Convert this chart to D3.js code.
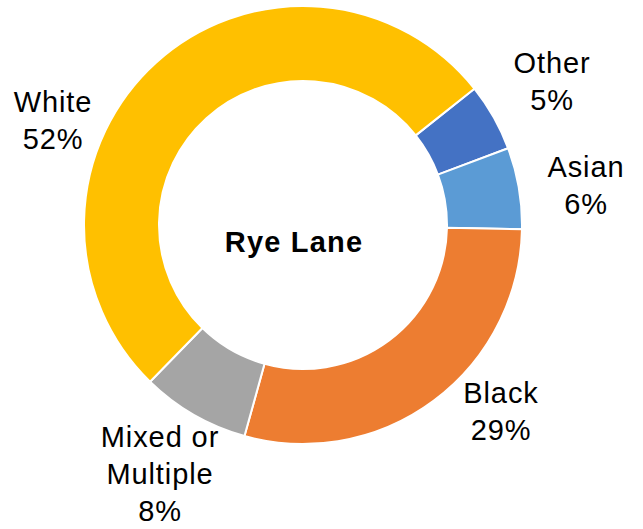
<!DOCTYPE html>
<html>
<head>
<meta charset="utf-8">
<script src="https://cdn.jsdelivr.net/npm/d3@7"></script>
<style>
  html, body { margin: 0; padding: 0; background: #fff; }
  svg { display: block; }
  text { font-family: "Liberation Sans", Arial, sans-serif; fill: #000; }
</style>
</head>
<body>
<div id="chart"></div>
<script>
// Ethnic make-up of Rye Lane (share of population, %)
const categories = ["Other", "Asian", "Black", "Mixed or Multiple", "White"];
const values = [5, 6, 29, 8, 52];
const labelLines = [["Other"], ["Asian"], ["Black"], ["Mixed or", "Multiple"], ["White"]];
const centerTitle = "Rye Lane";

const colors = ["#4472C4", "#5B9BD5", "#ED7D31", "#A5A5A5", "#FFC000"];

// Label anchors (first-line baseline, text centre) relative to ring centre
const labelAnchors = [
  [249, -152],
  [283, -48],
  [198, 178],
  [-143, 222],
  [-250, -113]
];

const width = 643, height = 529;
const cx = 303, cy = 225;
const outerR = 219, innerR = 144;
const lineGap = 37;
const startDeg = 51.5;

const svg = d3.select("#chart").append("svg")
  .attr("width", width).attr("height", height);

const g = svg.append("g").attr("transform", `translate(${cx},${cy})`);

const pie = d3.pie()
  .value(d => d.value)
  .sort(null)
  .startAngle(startDeg * Math.PI / 180)
  .endAngle(startDeg * Math.PI / 180 + 2 * Math.PI);

const data = categories.map((c, i) => ({ name: c, value: values[i], lines: labelLines[i], i }));

const arc = d3.arc().innerRadius(innerR).outerRadius(outerR);

g.selectAll("path.slice")
  .data(pie(data))
  .join("path")
  .attr("class", "slice")
  .attr("d", arc)
  .attr("fill", d => colors[d.data.i])
  .attr("stroke", "#fff")
  .attr("stroke-width", 2)
  .attr("stroke-linejoin", "round");

// Data labels: category name followed by the percentage
const labels = g.selectAll("text.lbl")
  .data(data)
  .join("text")
  .attr("class", "lbl")
  .attr("text-anchor", "middle")
  .attr("font-size", 29)
  .attr("letter-spacing", 0.9)
  .attr("x", d => labelAnchors[d.i][0])
  .attr("y", d => labelAnchors[d.i][1]);

labels.each(function(d) {
  const t = d3.select(this);
  const lines = d.lines.concat([d3.format("d")(d.value) + "%"]);
  lines.forEach((ln, k) => {
    t.append("tspan")
      .attr("x", labelAnchors[d.i][0])
      .attr("dy", k === 0 ? 0 : lineGap)
      .text(ln);
  });
});

g.append("text")
  .attr("text-anchor", "middle")
  .attr("x", -9)
  .attr("y", 27)
  .attr("font-size", 29)
  .attr("font-weight", "bold")
  .attr("letter-spacing", 1.2)
  .text(centerTitle);
</script>
</body>
</html>
